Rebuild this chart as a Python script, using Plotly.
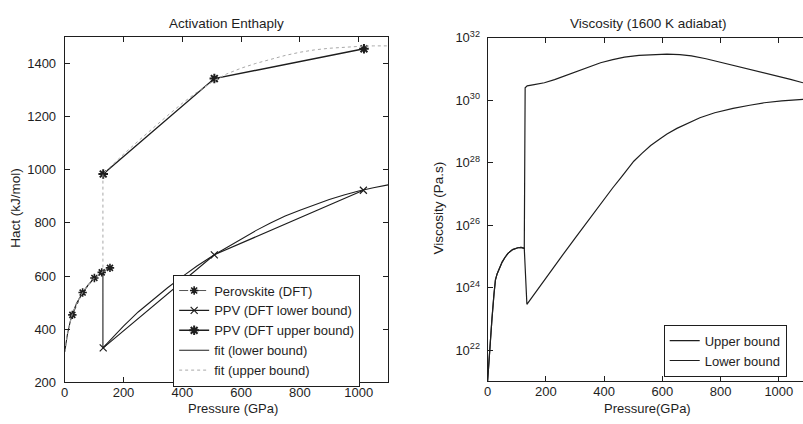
import plotly.graph_objects as go

W, H = 803, 424

# ---------------- Left panel data (Activation enthalpy) ----------------
perov_P = [26, 61, 101, 126, 154]
perov_H = [454, 538, 593, 614, 631]

ppv_low_P = [131, 509, 1016]
ppv_low_H = [330, 680, 923]

ppv_up_P = [131, 509, 1018]
ppv_up_H = [984, 1343, 1455]

fit_low_P = [0, 5, 10, 18, 25, 40, 61, 80, 101, 126, 130, 130, 150, 175, 200, 250, 300, 350, 400, 450,
             509, 550, 600, 650, 700, 750, 800, 850, 900, 950, 1000, 1050, 1100]
fit_low_H = [315, 355, 385, 425, 454, 497, 538, 567, 593, 614, 616, 330, 354, 384, 412, 465, 512, 556,
             598, 638, 680, 707, 740, 771, 800, 826, 848, 869, 888, 905, 920, 932, 943]

fit_up_P = [0, 5, 10, 18, 25, 40, 61, 80, 101, 126, 130, 130, 165, 200, 250, 300, 350, 400, 450, 510,
            550, 600, 650, 700, 750, 800, 850, 900, 950, 1000, 1050, 1100]
fit_up_H = [315, 355, 385, 425, 454, 497, 538, 567, 593, 614, 616, 984, 1022, 1058, 1108, 1157, 1204,
            1250, 1292, 1336, 1360, 1382, 1400, 1415, 1430, 1442, 1451, 1457, 1461, 1464, 1466, 1466]

# ---------------- Right panel data (Viscosity, log10 of Pa.s) ----------------
visc_up_P = [0, 4, 9, 15, 22, 27, 33, 40, 50, 59, 70, 86, 104, 115, 126, 129, 136, 160, 195, 230, 275,
             320, 360, 388, 430, 470, 520, 570, 616, 660, 700, 750, 786, 830, 870, 900, 956, 1000, 1040,
             1083]
visc_up_logeta = [21.0, 21.6, 22.2, 23.0, 23.8, 24.25, 24.45, 24.62, 24.82, 24.96, 25.1, 25.22, 25.28,
                  25.29, 25.26, 30.4, 30.46, 30.5, 30.56, 30.66, 30.82, 30.98, 31.12, 31.2, 31.3, 31.38,
                  31.44, 31.47, 31.48, 31.46, 31.42, 31.33, 31.25, 31.15, 31.05, 30.99, 30.87, 30.77,
                  30.67, 30.56]

visc_low_P = [0, 4, 9, 15, 22, 27, 33, 40, 50, 59, 70, 86, 104, 115, 126, 135, 160, 200, 250, 300, 366,
              400, 430, 460, 502, 530, 560, 590, 616, 650, 680, 729, 780, 843, 900, 950, 1010, 1083]
visc_low_logeta = [21.0, 21.6, 22.2, 23.0, 23.8, 24.25, 24.45, 24.62, 24.82, 24.96, 25.1, 25.22, 25.28,
                   25.29, 25.26, 23.47, 23.8, 24.3, 24.95, 25.58, 26.4, 26.85, 27.2, 27.55, 28.05, 28.3,
                   28.55, 28.75, 28.92, 29.1, 29.22, 29.44, 29.6, 29.74, 29.84, 29.92, 29.98, 30.03]

left_xticks = [0, 200, 400, 600, 800, 1000]
left_yticks = [200, 400, 600, 800, 1000, 1200, 1400]
right_xticks = [0, 200, 400, 600, 800, 1000]
right_yexp = [22, 24, 26, 28, 30, 32]

FONT = "Liberation Sans, Arial, Helvetica, sans-serif"
INK = "#1e1e1e"

fig = go.Figure()

# left panel traces
fig.add_trace(go.Scatter(x=perov_P, y=perov_H, mode="lines+markers", name="Perovskite (DFT)",
                         line=dict(color="#555555", width=1, dash="dashdot"),
                         marker=dict(symbol="asterisk-open", size=7, color=INK,
                                     line=dict(width=1.6, color=INK)),
                         xaxis="x", yaxis="y", legend="legend"))
fig.add_trace(go.Scatter(x=ppv_low_P, y=ppv_low_H, mode="lines+markers", name="PPV (DFT lower bound)",
                         line=dict(color=INK, width=1.2),
                         marker=dict(symbol="x-thin-open", size=7, color=INK,
                                     line=dict(width=1.2, color=INK)),
                         xaxis="x", yaxis="y", legend="legend"))
fig.add_trace(go.Scatter(x=ppv_up_P, y=ppv_up_H, mode="lines+markers", name="PPV (DFT upper bound)",
                         line=dict(color=INK, width=1.4),
                         marker=dict(symbol="asterisk-open", size=8, color=INK,
                                     line=dict(width=2, color=INK)),
                         xaxis="x", yaxis="y", legend="legend"))
fig.add_trace(go.Scatter(x=fit_low_P, y=fit_low_H, mode="lines", name="fit (lower bound)",
                         line=dict(color=INK, width=1.1),
                         xaxis="x", yaxis="y", legend="legend"))
fig.add_trace(go.Scatter(x=fit_up_P, y=fit_up_H, mode="lines", name="fit (upper bound)",
                         line=dict(color="#a8a8a8", width=1, dash="dot"),
                         xaxis="x", yaxis="y", legend="legend"))

# right panel traces
fig.add_trace(go.Scatter(x=visc_up_P, y=[10.0 ** v for v in visc_up_logeta], mode="lines",
                         name="Upper bound", line=dict(color=INK, width=1.2),
                         xaxis="x2", yaxis="y2", legend="legend2"))
fig.add_trace(go.Scatter(x=visc_low_P, y=[10.0 ** v for v in visc_low_logeta], mode="lines",
                         name="Lower bound", line=dict(color=INK, width=1.2),
                         xaxis="x2", yaxis="y2", legend="legend2"))

axis_common = dict(showline=True, linecolor=INK, linewidth=1, ticks="inside", ticklen=5,
                   tickcolor=INK, showgrid=False, zeroline=False,
                   tickfont=dict(family=FONT, size=13, color=INK))

fig.update_layout(
    width=W, height=H,
    margin=dict(l=0, r=0, t=0, b=0),
    paper_bgcolor="white", plot_bgcolor="white",
    font=dict(family=FONT, size=13, color=INK),
    xaxis=dict(domain=[61 / W, 386 / W], range=[0, 1100], tickvals=left_xticks,
               mirror="ticks", anchor="y", ticklabelstandoff=-2, **axis_common),
    yaxis=dict(domain=[1 - 389 / H, 1 - 29 / H], range=[200, 1500], tickvals=left_yticks,
               mirror="ticks", anchor="x", ticklabelstandoff=5, **axis_common),
    xaxis2=dict(domain=[486 / W, 1.0], range=[0, 1083], tickvals=right_xticks,
                mirror="ticks", anchor="y2", ticklabelstandoff=-2, **axis_common),
    yaxis2=dict(domain=[1 - 388 / H, 1 - 30 / H], type="log", range=[21, 32],
                tickvals=[10.0 ** e for e in right_yexp],
                ticktext=["10<sup>%d</sup>" % e for e in right_yexp],
                mirror=False, anchor="x2", ticklabelstandoff=4, **axis_common),
    showlegend=True,
    hovermode=False,
    legend=dict(x=170 / W, y=1 - 335 / H, xanchor="left", yanchor="middle",
                bgcolor="white", bordercolor=INK, borderwidth=1,
                font=dict(family=FONT, size=13, color=INK), tracegroupgap=0),
    legend2=dict(x=663 / W, y=1 - 383 / H, xanchor="left", yanchor="bottom",
                 bgcolor="white", bordercolor=INK, borderwidth=1,
                 font=dict(family=FONT, size=13, color=INK), tracegroupgap=0),
)

def ann(text, x, y, angle=0, size=13.5):
    fig.add_annotation(text=text, x=x / W, y=1 - y / H, xref="paper", yref="paper",
                       showarrow=False, textangle=angle, xanchor="center", yanchor="middle",
                       font=dict(family=FONT, size=size, color=INK))

ann("Activation Enthaply", 224, 15)
ann("Viscosity (1600 K adiabat)", 648, 15)
ann("Pressure (GPa)", 230, 416, size=13)
ann("Pressure(GPa)", 647, 416, size=13)
ann("Hact (kJ/mol)", 12, 207, angle=-90)
ann("Viscosity (Pa.s)", 437, 207, angle=-90)

fig.write_html("out.html", config={"displayModeBar": False},
               post_script="document.body.style.margin='0';document.body.style.overflow='hidden';")
